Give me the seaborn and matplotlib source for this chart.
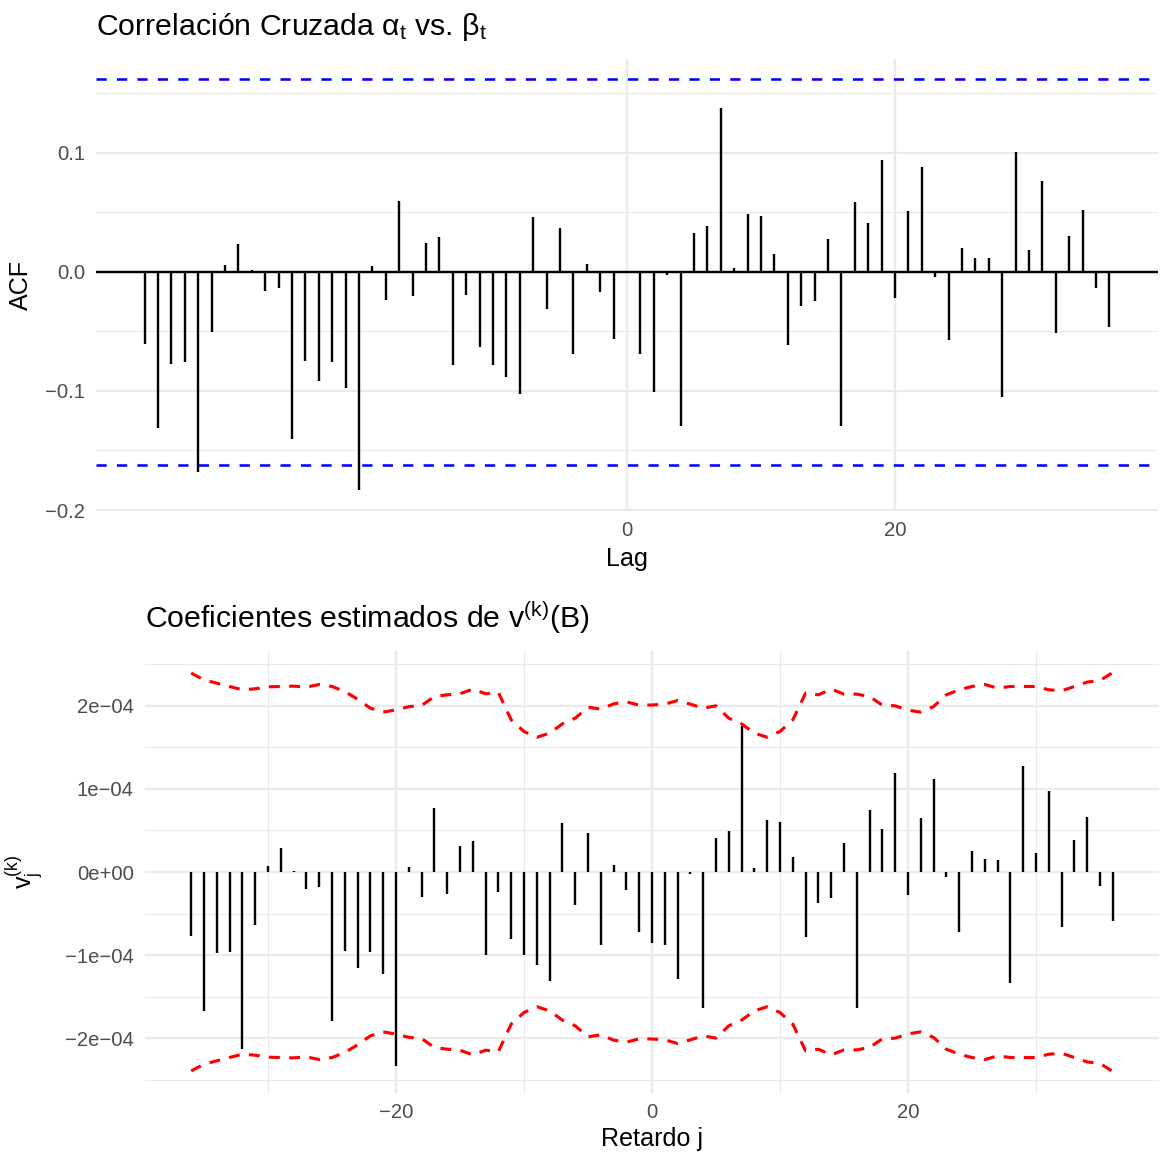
import numpy as np
import pandas as pd
import matplotlib
matplotlib.use("Agg")
import matplotlib.pyplot as plt
import seaborn as sns

# ---------------- data ----------------
lags = list(range(-36, 37))

ccf_values = [
    -0.0608, -0.1314, -0.0770, -0.0754, -0.1678, -0.0504, 0.0056, 0.0233, 0.0014,
    -0.0157, -0.0137, -0.1406, -0.0750, -0.0913, -0.0754, -0.0972, -0.1832,
    0.0050, -0.0235, 0.0600, -0.0200, 0.0246, 0.0290, -0.0780, -0.0190, -0.0627,
    -0.0780, -0.0880, -0.1028, 0.0460, -0.0310, 0.0367, -0.0690, 0.0067, -0.0170,
    -0.0566,
    0.0005,
    -0.0690, -0.1010, -0.0025, -0.1290, 0.0325, 0.0390, 0.1380, 0.0036, 0.0490,
    0.0470, 0.0148, -0.0613, -0.0286, -0.0246, 0.0277, -0.1290, 0.0588, 0.0410,
    0.0944, -0.0216, 0.0510, 0.0880, -0.0040, -0.0570, 0.0200, 0.0120, 0.0115,
    -0.1048, 0.1006, 0.0182, 0.0762, -0.0515, 0.0305, 0.0520, -0.0132, -0.0460,
]
ccf_bound = 0.162

# coefficients v_j^(k), in units of 1e-4
v_values = [
    -0.771, -1.671, -0.980, -0.960, -2.133, -0.643, 0.072, 0.293, 0.010,
    -0.205, -0.177, -1.791, -0.952, -1.161, -0.960, -1.233, -2.333,
    0.064, -0.301, 0.767, -0.261, 0.313, 0.373, -1.000, -0.245, -0.803,
    -1.000, -1.120, -1.313, 0.590, -0.398, 0.470, -0.884, 0.080, -0.217,
    -0.723,
    -0.859,
    -0.884, -1.285, -0.020, -1.642, 0.414, 0.494, 1.755, 0.044, 0.627,
    0.598, 0.185, -0.779, -0.369, -0.317, 0.349, -1.642, 0.743, 0.518,
    1.196, -0.277, 0.647, 1.120, -0.056, -0.727, 0.253, 0.153, 0.148,
    -1.333, 1.277, 0.229, 0.972, -0.659, 0.386, 0.663, -0.172, -0.587,
]
# upper confidence limit, in units of 1e-4
v_upper = [
    2.394, 2.313, 2.273, 2.233, 2.193, 2.205, 2.229, 2.233, 2.237,
    2.225, 2.257, 2.233, 2.173, 2.080, 1.972, 1.924, 1.952,
    1.990, 2.004, 2.112, 2.133, 2.145, 2.201, 2.145, 2.161, 1.831,
    1.691, 1.622, 1.671, 1.783, 1.851, 1.984, 1.960, 2.024, 2.048,
    2.008,
    2.010,
    2.020, 2.064, 2.020, 1.972, 2.000, 1.851, 1.783, 1.671, 1.622,
    1.691, 1.831, 2.153, 2.133, 2.201, 2.141, 2.141, 2.112, 2.008,
    2.000, 1.948, 1.924, 1.992, 2.133, 2.193, 2.233, 2.257, 2.213,
    2.233, 2.233, 2.233, 2.193, 2.181, 2.233, 2.286, 2.305, 2.401,
]
v_lower = [-u for u in v_upper]
v_scale = 1e-4

top_title = "Correlación Cruzada α$_\\mathrm{t}$ vs. β$_\\mathrm{t}$"
bot_title = "Coeficientes estimados de v$^{\\mathrm{(k)}}$(B)"
top_xlabel, top_ylabel = "Lag", "ACF"
bot_xlabel = "Retardo j"
bot_ylabel = "$\\mathrm{v}_\\mathrm{j}^{\\mathrm{(k)}}$"

top_xticks, top_xticklabels = [0, 20], ["0", "20"]
top_yticks = [-0.2, -0.1, 0.0, 0.1]
top_yticklabels = ["−0.2", "−0.1", "0.0", "0.1"]
top_yminor = [-0.15, -0.05, 0.05, 0.15]
bot_xticks, bot_xticklabels = [-20, 0, 20], ["−20", "0", "20"]
bot_xminor = [-30, -10, 10, 30]
bot_yticks = [-2e-4, -1e-4, 0.0, 1e-4, 2e-4]
bot_yticklabels = ["−2e−04", "−1e−04", "0e+00", "1e−04", "2e−04"]
bot_yminor = [-2.5e-4, -1.5e-4, -0.5e-4, 0.5e-4, 1.5e-4, 2.5e-4]

# ---------------- style ----------------
sns.set_theme(style="white")
plt.rcParams['font.family'] = ['Liberation Sans', 'DejaVu Sans']
plt.rcParams['mathtext.fontset'] = 'custom'
plt.rcParams['mathtext.rm'] = 'Liberation Sans'
plt.rcParams['mathtext.it'] = 'Liberation Sans:italic'
plt.rcParams['axes.unicode_minus'] = True

DPI = 160
W, H = 1161, 1153
fig = plt.figure(figsize=(W / DPI, H / DPI), dpi=DPI)
fig.patch.set_facecolor("white")

TITLE_FS, AXIS_FS, TICK_FS = 13.6, 11.3, 9.1


def px_axes(left, top, right, bottom):
    return fig.add_axes([left / W, 1 - bottom / H, (right - left) / W, (bottom - top) / H])


GRID = "#EBEBEB"
TICKC = "#4D4D4D"
LW = 1.07


def style_axes(ax, xticks, xlabels, yticks, ylabels, xminor, yminor):
    for s in ax.spines.values():
        s.set_visible(False)
    ax.set_xticks(xticks)
    ax.set_xticklabels(xlabels)
    ax.set_yticks(yticks)
    ax.set_yticklabels(ylabels)
    ax.set_xticks(xminor, minor=True)
    ax.set_yticks(yminor, minor=True)
    ax.tick_params(axis="both", which="both", length=0, colors=TICKC, labelsize=TICK_FS)
    ax.tick_params(axis="x", pad=4.6)
    ax.tick_params(axis="y", pad=5.0)
    ax.grid(True, which="major", color=GRID, lw=LW)
    ax.grid(True, which="minor", color=GRID, lw=LW / 2)
    ax.set_axisbelow(True)
    ax.set_facecolor("white")


# ---------------- top panel ----------------
ax1 = px_axes(96.4, 58.6, 1157.6, 510.6)
style_axes(ax1, top_xticks, top_xticklabels, top_yticks, top_yticklabels, [], top_yminor)
ax1.axhline(0, color="black", lw=LW, zorder=2)
ax1.vlines(lags, 0, ccf_values, color="black", lw=LW, zorder=3)
ax1.axhline(ccf_bound, color="blue", lw=1.15, ls=(0, (4, 4)), zorder=4)
ax1.axhline(-ccf_bound, color="blue", lw=1.15, ls=(0, (4, 4)), zorder=4)
ax1.set_xlim(-39.6, 39.6)
ax1.set_ylim(-0.2005, 0.1793)
ax1.set_xlabel(top_xlabel, fontsize=AXIS_FS, color="black", va="center")
ax1.xaxis.set_label_coords(0.5, -(559 - 510.6) / 452.0)
ax1.set_ylabel(top_ylabel, fontsize=AXIS_FS, color="black", va="center")
ax1.yaxis.set_label_coords((21 - 96.4) / 1061.2, 0.5)
fig.text(96.4 / W, 1 - 35 / H, top_title, fontsize=TITLE_FS, color="black",
         ha="left", va="baseline")

# ---------------- bottom panel ----------------
ax2 = px_axes(145.1, 651, 1158.9, 1093)
style_axes(ax2, bot_xticks, bot_xticklabels, bot_yticks, bot_yticklabels, bot_xminor, bot_yminor)
df = pd.DataFrame({
    "lag": lags,
    "v": np.array(v_values) * v_scale,
    "upper": np.array(v_upper) * v_scale,
    "lower": np.array(v_lower) * v_scale,
})
ax2.vlines(df["lag"], 0, df["v"], color="black", lw=LW, zorder=3)
sns.lineplot(data=df, x="lag", y="upper", ax=ax2, color="red", lw=1.4,
             linestyle=(0, (3.5, 3)), estimator=None, zorder=4)
sns.lineplot(data=df, x="lag", y="lower", ax=ax2, color="red", lw=1.4,
             linestyle=(0, (3.5, 3)), estimator=None, zorder=4)
ax2.set_xlim(-39.6, 39.6)
ax2.set_ylim(-2.66e-4, 2.66e-4)
ax2.set_xlabel(bot_xlabel, fontsize=AXIS_FS, color="black", va="center")
ax2.xaxis.set_label_coords(0.5, -(1139 - 1093) / 442.0)
ax2.set_ylabel(bot_ylabel, fontsize=AXIS_FS, color="black", va="center")
ax2.yaxis.set_label_coords((24 - 145.1) / 1013.8, 0.5)
fig.text(145.1 / W, 1 - 628 / H, bot_title, fontsize=TITLE_FS, color="black",
         ha="left", va="baseline")

fig.savefig("out.png", dpi=DPI, facecolor="white")
